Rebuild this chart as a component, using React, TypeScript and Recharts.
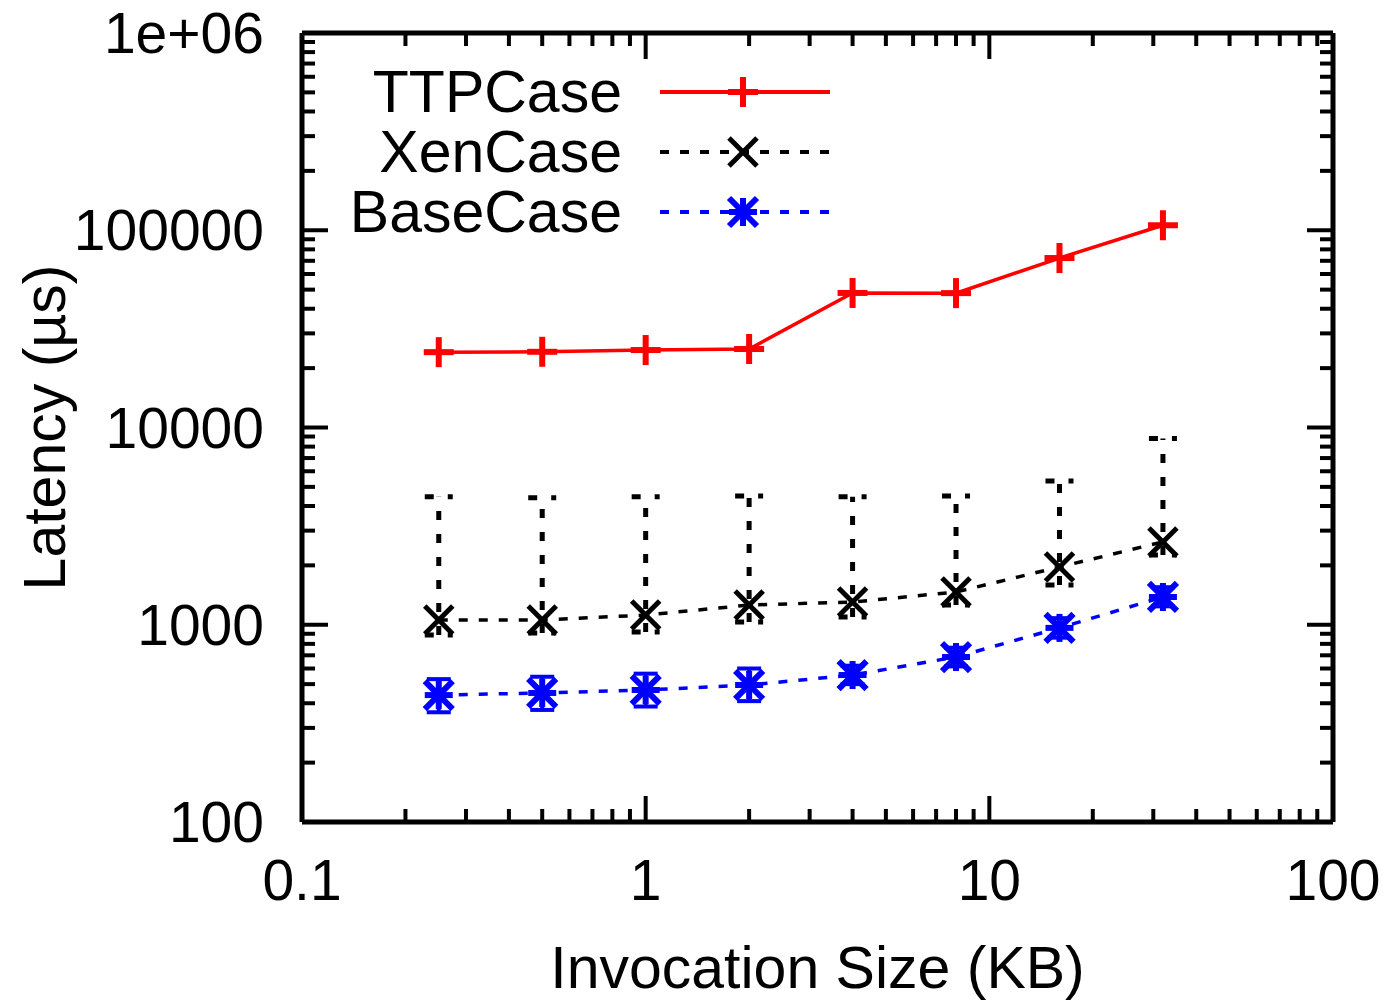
import React from "react";
import { LineChart, Line, XAxis, YAxis, ErrorBar, Legend } from "recharts";

const FONT = "'Liberation Sans', Arial, sans-serif";

// invocation sizes in KB
const sizes = [0.25, 0.5, 1, 2, 4, 8, 16, 32];

// latency in µs
const ttpCase = [24100, 24200, 24700, 25000, 48100, 48000, 72300, 106000];
const xenCase = [1057, 1057, 1120, 1259, 1303, 1466, 1963, 2630];
const xenLow = [887, 908, 919, 1033, 1094, 1259, 1592, 2259];
const xenHigh = [4450, 4400, 4450, 4500, 4450, 4500, 5350, 8800];
const baseCase = [440, 451, 467, 495, 556, 686, 964, 1383];
const baseLow = [360, 370, 385, 410, 500, 615, 860, 1240];
const baseHigh = [530, 545, 565, 600, 620, 765, 1080, 1550];

const xTicks = [0.1, 0.2, 0.3, 0.4, 0.5, 0.6, 0.7, 0.8, 0.9, 1, 2, 3, 4, 5, 6, 7, 8, 9, 10,
  20, 30, 40, 50, 60, 70, 80, 90, 100];
const yTicks = [100, 200, 300, 400, 500, 600, 700, 800, 900,
  1000, 2000, 3000, 4000, 5000, 6000, 7000, 8000, 9000,
  10000, 20000, 30000, 40000, 50000, 60000, 70000, 80000, 90000,
  100000, 200000, 300000, 400000, 500000, 600000, 700000, 800000, 900000, 1000000];

const data = sizes.map((x, i) => ({
  x,
  ttp: ttpCase[i],
  xen: xenCase[i],
  base: baseCase[i],
  xenErr: [xenCase[i] - xenLow[i], xenHigh[i] - xenCase[i]],
  baseErr: [baseCase[i] - baseLow[i], baseHigh[i] - baseCase[i]],
}));

const isMajor = (v: number) => Math.abs(Math.log10(v) - Math.round(Math.log10(v))) < 1e-9;
const fmtX = (v: number) => String(v);
const fmtY = (v: number) => (v >= 1000000 ? "1e+06" : String(v));

const MAJ = 26;
const MIN = 13;

function BottomTick(p: any) {
  const v = p.payload.value;
  const len = isMajor(v) ? MAJ : MIN;
  return (
    <g>
      <line x1={p.x} x2={p.x} y1={p.y} y2={p.y - len} stroke="#000" strokeWidth={4} />
      {isMajor(v) && (
        <text x={p.x} y={p.y + 58} textAnchor="middle" dominantBaseline="central"
          fontFamily={FONT} fontSize={57} fill="#000">{fmtX(v)}</text>
      )}
    </g>
  );
}

function TopTick(p: any) {
  const v = p.payload.value;
  const len = isMajor(v) ? MAJ : MIN;
  return <line x1={p.x} x2={p.x} y1={p.y} y2={p.y + len} stroke="#000" strokeWidth={4} />;
}

function LeftTick(p: any) {
  const v = p.payload.value;
  const len = isMajor(v) ? MAJ : MIN;
  return (
    <g>
      <line x1={p.x} x2={p.x + len} y1={p.y} y2={p.y} stroke="#000" strokeWidth={4} />
      {isMajor(v) && (
        <text x={p.x - 38} y={p.y} textAnchor="end" dominantBaseline="central"
          fontFamily={FONT} fontSize={57} fill="#000">{fmtY(v)}</text>
      )}
    </g>
  );
}

function RightTick(p: any) {
  const v = p.payload.value;
  const len = isMajor(v) ? MAJ : MIN;
  return <line x1={p.x} x2={p.x - len} y1={p.y} y2={p.y} stroke="#000" strokeWidth={4} />;
}

function PlusMark({ cx, cy, s = 15 }: any) {
  return (
    <g stroke="#ff0000" strokeWidth={6}>
      <line x1={cx - s} x2={cx + s} y1={cy} y2={cy} />
      <line x1={cx} x2={cx} y1={cy - s} y2={cy + s} />
    </g>
  );
}

function CrossMark({ cx, cy, s = 14 }: any) {
  return (
    <g stroke="#000" strokeWidth={5}>
      <line x1={cx - s} x2={cx + s} y1={cy - s} y2={cy + s} />
      <line x1={cx - s} x2={cx + s} y1={cy + s} y2={cy - s} />
    </g>
  );
}

function StarMark({ cx, cy, s = 14 }: any) {
  return (
    <g stroke="#0000ff" strokeWidth={6}>
      <line x1={cx - s} x2={cx + s} y1={cy} y2={cy} />
      <line x1={cx} x2={cx} y1={cy - s} y2={cy + s} />
      <line x1={cx - s} x2={cx + s} y1={cy - s} y2={cy + s} />
      <line x1={cx - s} x2={cx + s} y1={cy + s} y2={cy - s} />
    </g>
  );
}

const legendRows = [
  { name: "TTPCase", color: "#ff0000", dash: undefined, Mark: PlusMark },
  { name: "XenCase", color: "#000", dash: "9 11", Mark: CrossMark },
  { name: "BaseCase", color: "#0000ff", dash: "9 11", Mark: StarMark },
];

function LegendBox() {
  return (
    <svg width={900} height={250}>
      {legendRows.map((r, i) => {
        const y = 92 + i * 60;
        return (
          <g key={r.name}>
            <text x={622} y={y} textAnchor="end" dominantBaseline="central"
              fontFamily={FONT} fontSize={59} fill="#000">{r.name}</text>
            <line x1={660} x2={830} y1={y} y2={y} stroke={r.color} strokeWidth={4}
              strokeDasharray={r.dash} />
            <r.Mark cx={743} cy={y} />
          </g>
        );
      })}
    </svg>
  );
}

export default function App() {
  return (
    <div style={{ position: "absolute", left: 0, top: 0, background: "#fff" }}>
      <LineChart width={1396} height={1002} data={data}
        margin={{ top: 0, right: 0, bottom: 0, left: 0 }}>
        <XAxis xAxisId="b" dataKey="x" type="number" scale="log" domain={[0.1, 100]}
          allowDataOverflow ticks={xTicks} interval={0} height={180}
          tickSize={0} tickMargin={0} tickLine={false} tick={<BottomTick />}
          axisLine={{ stroke: "#000", strokeWidth: 5 }}
          label={{ value: "Invocation Size (KB)", position: "insideBottom", offset: 14,
            style: { fontFamily: FONT, fontSize: 59, fill: "#000" } }} />
        <XAxis xAxisId="t" dataKey="x" type="number" scale="log" domain={[0.1, 100]}
          allowDataOverflow orientation="top" ticks={xTicks} interval={0} height={33}
          tickSize={0} tickMargin={0} tickLine={false} tick={<TopTick />}
          axisLine={{ stroke: "#000", strokeWidth: 5 }} />
        <YAxis yAxisId="l" type="number" scale="log" domain={[100, 1000000]}
          allowDataOverflow ticks={yTicks} interval={0} width={302}
          tickSize={0} tickMargin={0} tickLine={false} tick={<LeftTick />}
          axisLine={{ stroke: "#000", strokeWidth: 5 }}
          label={{ value: "Latency (µs)", angle: -90, position: "insideLeft", offset: 44,
            style: { fontFamily: FONT, fontSize: 59, fill: "#000", textAnchor: "middle" } }} />
        <YAxis yAxisId="r" type="number" scale="log" domain={[100, 1000000]}
          allowDataOverflow orientation="right" ticks={yTicks} interval={0} width={63}
          tickSize={0} tickMargin={0} tickLine={false} tick={<RightTick />}
          axisLine={{ stroke: "#000", strokeWidth: 5 }} />
        <Legend layout="horizontal" verticalAlign="middle" align="center"
          wrapperStyle={{ left: 0, top: 0, width: 900, height: 250 }}
          content={() => <LegendBox />} />
        <Line xAxisId="b" yAxisId="l" dataKey="ttp" stroke="#ff0000" strokeWidth={3.5}
          isAnimationActive={false}
          dot={(p: any) => <PlusMark key={p.index} cx={p.cx} cy={p.cy} />} activeDot={false} />
        <Line xAxisId="b" yAxisId="l" dataKey="xen" stroke="#000" strokeWidth={3.5}
          strokeDasharray="9 11" isAnimationActive={false}
          dot={(p: any) => <CrossMark key={p.index} cx={p.cx} cy={p.cy} />} activeDot={false}>
          <ErrorBar dataKey="xenErr" direction="y" width={14} stroke="#000" strokeWidth={5}
            strokeDasharray="9 14" isAnimationActive={false} />
        </Line>
        <Line xAxisId="b" yAxisId="l" dataKey="base" stroke="#0000ff" strokeWidth={3.5}
          strokeDasharray="9 11" isAnimationActive={false}
          dot={(p: any) => <StarMark key={p.index} cx={p.cx} cy={p.cy} />} activeDot={false}>
          <ErrorBar dataKey="baseErr" direction="y" width={12} stroke="#0000ff" strokeWidth={4}
            isAnimationActive={false} />
        </Line>
      </LineChart>
    </div>
  );
}
